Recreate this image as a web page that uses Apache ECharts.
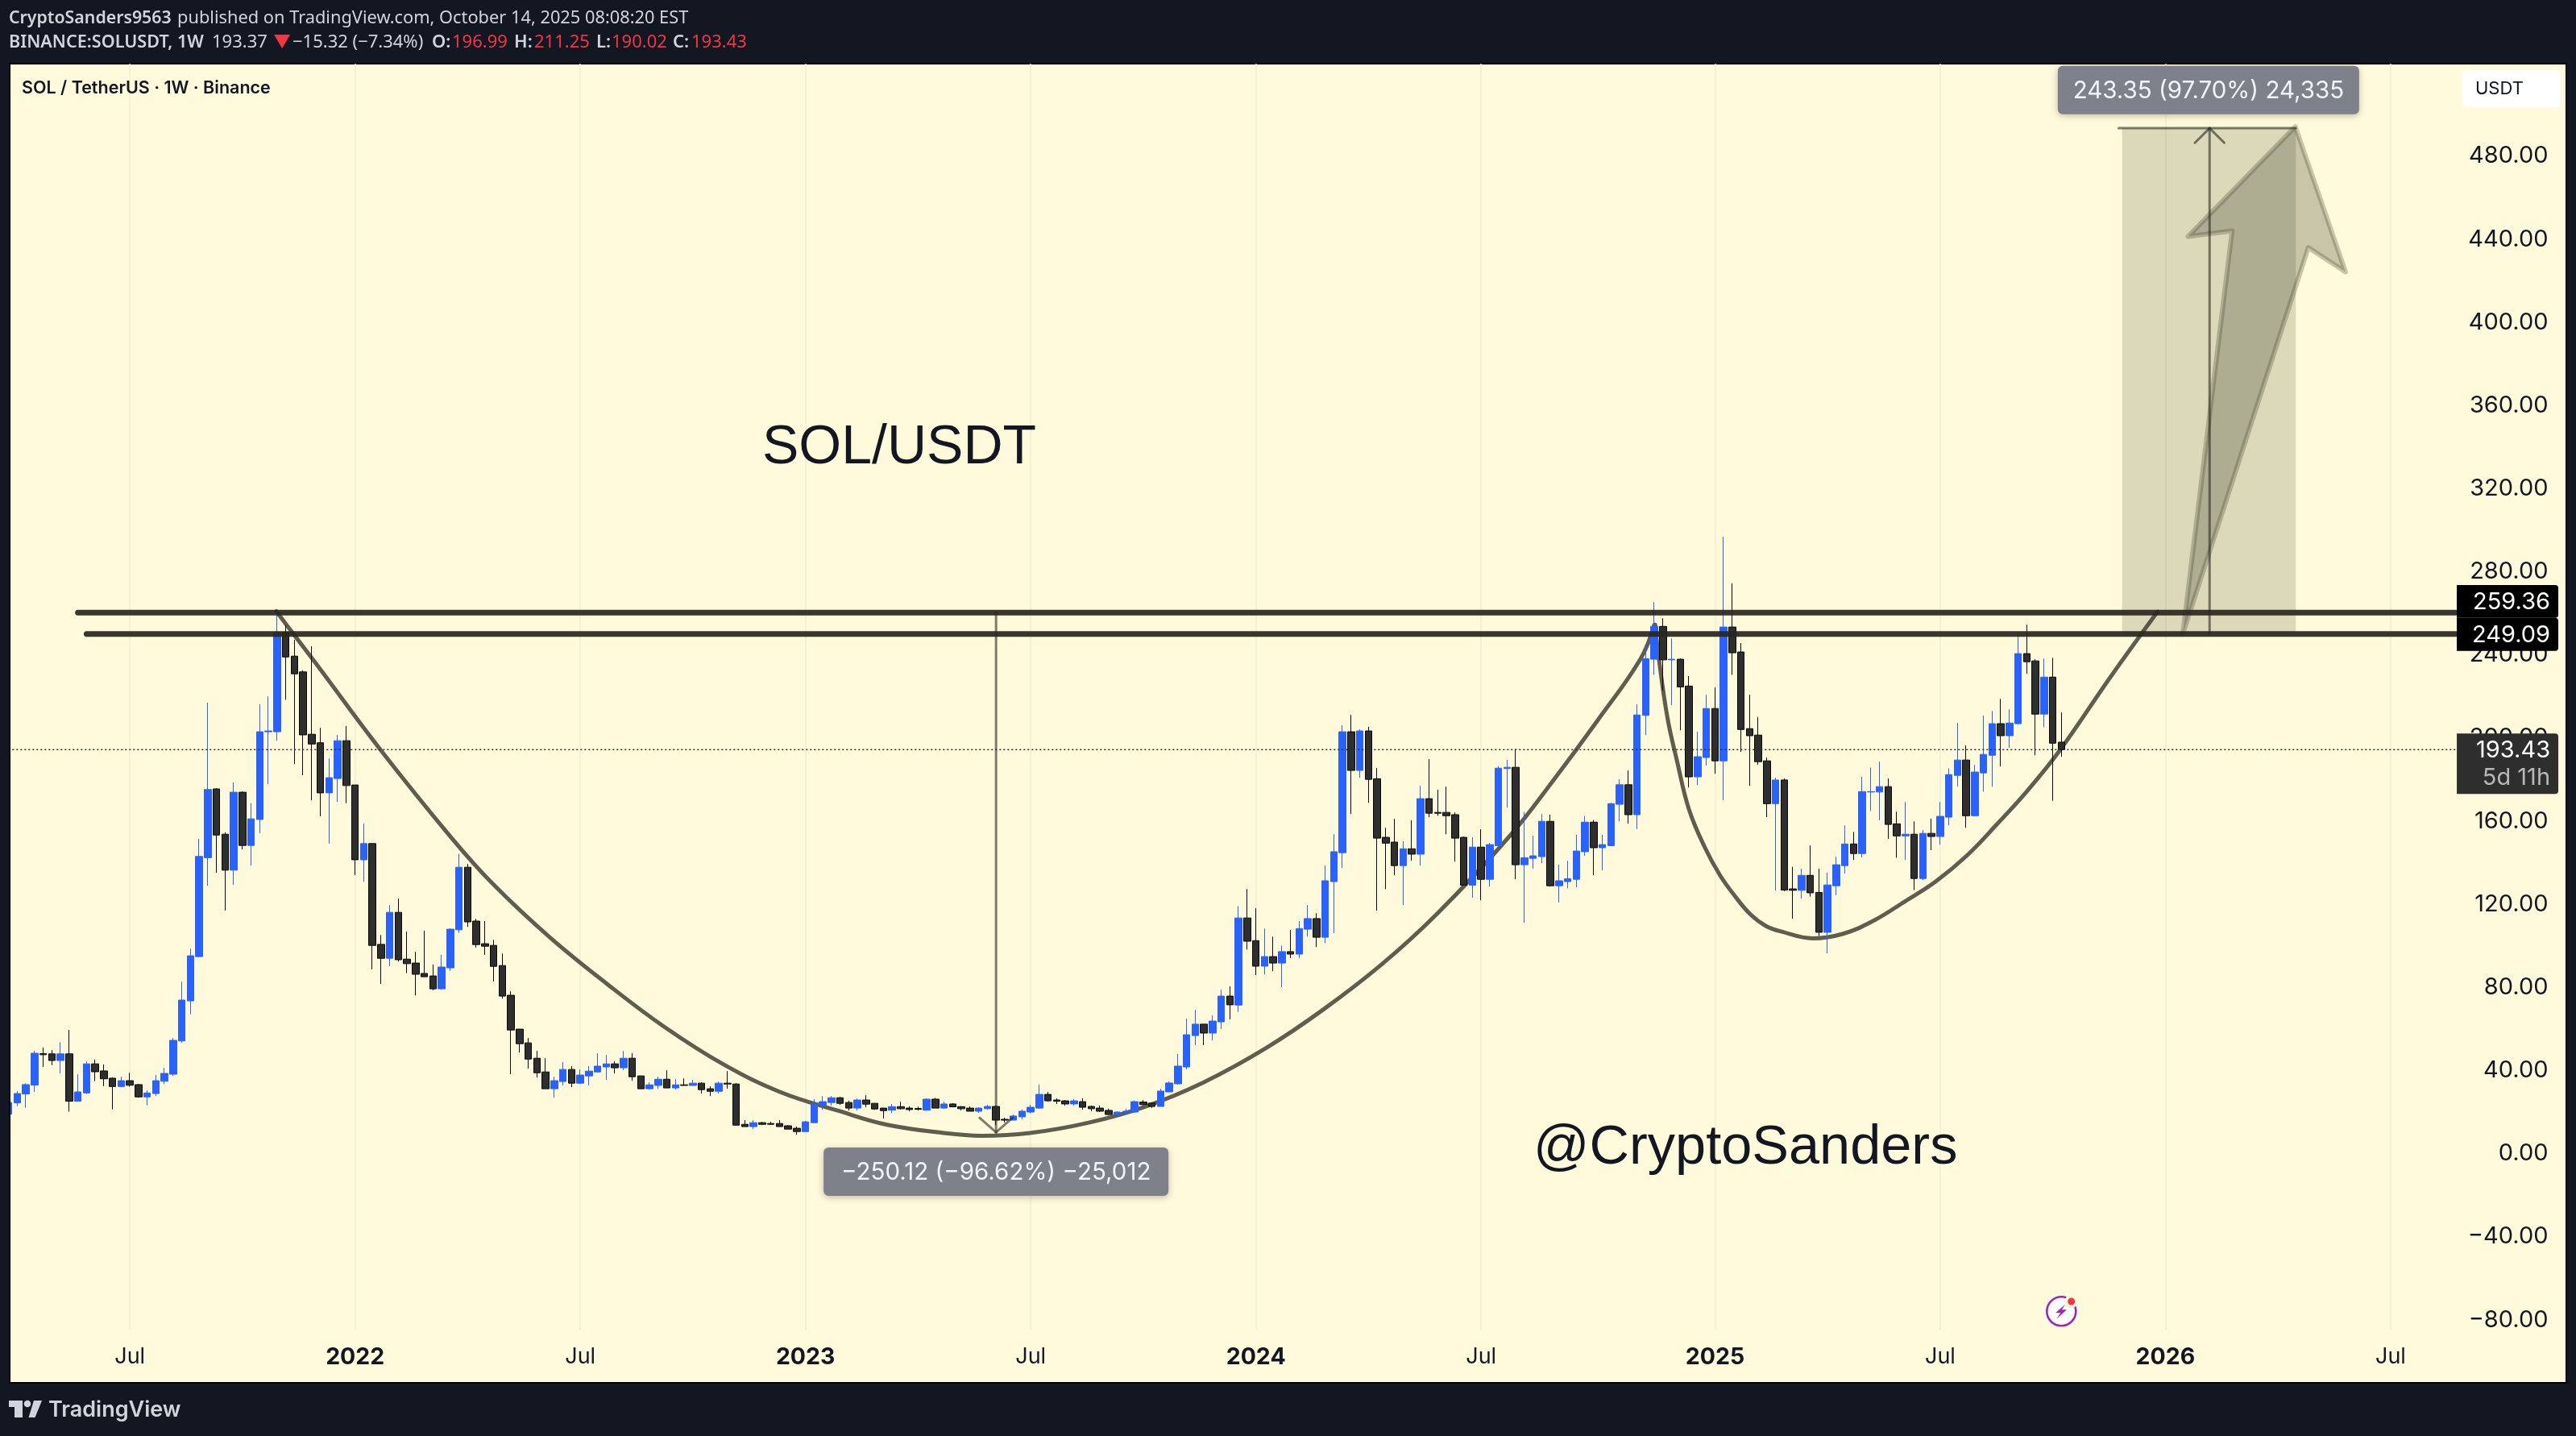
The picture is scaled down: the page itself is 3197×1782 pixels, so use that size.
<!DOCTYPE html>
<html lang="en">

<head>
  <meta charset="UTF-8">
  <title>SOL/USDT 1W</title>
  <style type="text/css">
    html, body { margin: 0; padding: 0; background: #131722; }
    #mainChart { width: 3197px; height: 1782px; }
  </style>
</head>

<body>
  <div id="mainChart"></div>
</body>
<script type="text/javascript" src="https://cdn.jsdelivr.net/npm/echarts@6/dist/echarts.min.js"></script>
<script type="text/javascript">
  // weekly candles, first bar is cut by the left edge
  var opens = [
    18.0, 23.4, 27.7, 32.0, 47.1, 47.0, 43.8, 47.0, 24.2, 28.2,
    42.2, 38.8, 35.3, 31.3, 34.1, 32.2, 26.3, 27.9, 33.8, 37.2,
    53.2, 72.5, 93.8, 141.4, 174.5, 152.7, 135.4, 172.9, 147.3, 159.8,
    202.0, 202.0, 249.8, 238.4, 230.8, 200.8, 196.7, 172.6, 179.5, 197.7,
    176.4, 140.4, 148.2, 99.7, 93.0, 115.1, 92.6, 90.7, 85.7, 84.5,
    78.3, 88.4, 106.7, 136.8, 110.9, 100.0, 99.2, 89.5, 75.2, 58.9,
    52.3, 44.9, 38.3, 30.2, 33.7, 39.5, 32.9, 36.4, 38.3, 40.7,
    42.2, 40.3, 44.9, 36.4, 30.2, 31.8, 34.8, 30.6, 32.1, 31.8,
    32.9, 30.2, 29.0, 32.9, 32.5, 13.1, 12.0, 13.9, 13.5, 13.5,
    12.4, 11.2, 9.6, 13.9, 22.4, 23.6, 25.9, 23.6, 20.9, 24.8,
    23.2, 20.9, 19.9, 21.6, 20.9, 20.7, 19.9, 25.2, 20.9, 22.9,
    21.6, 20.9, 19.4, 20.6, 21.7, 15.5, 15.1, 16.7, 19.0, 20.9,
    27.5, 24.8, 24.4, 22.9, 24.0, 21.7, 20.9, 19.8, 17.8, 18.6,
    19.0, 23.8, 23.3, 21.7, 28.7, 32.6, 40.7, 55.8, 61.3, 57.0,
    62.4, 74.8, 70.5, 112.4, 101.5, 89.2, 93.8, 90.7, 96.2, 95.0,
    107.0, 112.1, 103.1, 129.9, 143.8, 202.0, 183.4, 202.4, 179.4, 151.2,
    148.9, 137.6, 145.7, 143.1, 169.8, 163.2, 163.2, 162.1, 151.2, 128.2,
    146.5, 131.0, 147.2, 184.3, 184.9, 138.0, 141.1, 141.9, 158.9, 127.9,
    129.9, 131.0, 144.3, 158.5, 146.2, 147.2, 167.1, 176.5, 162.1, 209.9,
    236.9, 252.7, 236.6, 236.9, 224.0, 180.3, 189.6, 213.2, 188.0, 252.4,
    240.4, 203.5, 200.4, 188.0, 167.4, 178.8, 126.4, 125.7, 132.9, 124.7,
    105.5, 127.9, 137.6, 148.0, 143.4, 173.0, 173.0, 175.6, 157.7, 151.9,
    152.7, 131.4, 153.1, 151.6, 160.9, 181.0, 188.4, 161.6, 182.2, 190.7,
    205.9, 200.1, 205.9, 239.6, 236.1, 210.5, 228.3, 196.99
  ];
  var closes = [
    23.6, 27.9, 32.2, 47.3, 46.6, 43.8, 47.0, 24.2, 28.7, 42.2,
    38.4, 35.0, 31.3, 34.1, 31.9, 26.3, 28.2, 34.1, 37.6, 53.5,
    72.9, 94.2, 142.0, 174.2, 152.3, 135.4, 172.9, 147.3, 160.1, 202.0,
    202.4, 249.8, 238.0, 229.9, 200.5, 196.1, 172.6, 179.9, 197.7, 176.1,
    140.4, 148.2, 99.2, 93.0, 115.1, 92.3, 90.4, 85.3, 84.1, 78.3,
    88.8, 107.0, 136.8, 110.5, 99.6, 98.8, 89.1, 74.8, 58.5, 51.9,
    44.5, 37.9, 30.2, 34.1, 39.5, 32.9, 36.8, 38.7, 41.1, 42.2,
    40.3, 44.9, 36.0, 30.2, 32.1, 34.8, 30.6, 32.1, 31.8, 32.9,
    29.8, 29.0, 32.9, 32.5, 12.7, 12.0, 13.9, 13.1, 13.1, 12.0,
    10.8, 9.6, 14.3, 22.8, 24.0, 25.9, 23.2, 20.9, 24.8, 22.8,
    20.5, 19.7, 21.6, 20.6, 20.2, 20.3, 25.2, 20.9, 22.9, 21.5,
    20.6, 19.4, 20.9, 21.7, 15.1, 15.1, 17.1, 19.4, 21.3, 27.5,
    24.4, 24.2, 22.9, 24.4, 21.3, 20.6, 19.4, 17.8, 19.0, 19.4,
    24.0, 22.6, 21.7, 29.1, 33.0, 41.1, 56.2, 61.3, 57.0, 62.8,
    74.8, 70.6, 112.4, 101.2, 89.2, 93.8, 90.7, 96.2, 95.0, 107.3,
    112.1, 103.1, 130.3, 144.3, 202.0, 183.4, 202.4, 179.1, 150.8, 148.4,
    137.6, 145.7, 143.1, 169.8, 162.8, 162.8, 161.6, 150.8, 128.2, 146.5,
    131.0, 147.7, 184.5, 184.9, 138.0, 141.4, 142.3, 158.9, 127.9, 130.3,
    131.3, 144.6, 158.5, 146.2, 147.7, 167.4, 176.5, 162.1, 210.1, 237.2,
    252.7, 236.6, 236.9, 223.6, 180.3, 190.0, 213.2, 188.0, 252.4, 240.0,
    203.1, 200.1, 187.6, 167.4, 178.8, 125.8, 125.7, 132.9, 124.5, 105.5,
    128.3, 138.0, 148.0, 143.4, 173.2, 173.2, 175.6, 157.4, 151.9, 152.7,
    131.4, 153.1, 151.6, 161.3, 181.4, 188.4, 161.6, 182.6, 191.1, 205.9,
    200.1, 206.2, 239.6, 235.7, 210.5, 228.3, 196.5, 193.43
  ];
  var lows = [
    17.8, 21.8, 21.1, 28.7, 40.7, 41.6, 37.6, 19.2, 24.2, 27.7,
    33.9, 31.5, 20.3, 31.0, 31.2, 26.0, 22.2, 26.7, 32.4, 36.4,
    52.3, 66.0, 93.5, 127.9, 134.2, 116.0, 128.3, 145.4, 137.6, 153.2,
    176.8, 197.7, 217.4, 186.4, 181.1, 169.0, 161.3, 148.2, 168.3, 167.6,
    133.0, 129.8, 87.6, 80.7, 89.2, 91.4, 85.9, 75.1, 84.1, 77.6,
    77.9, 86.9, 105.2, 108.1, 98.1, 94.6, 81.8, 73.6, 37.2, 47.6,
    39.9, 35.6, 30.2, 25.9, 31.8, 31.0, 32.5, 31.8, 38.3, 34.5,
    37.6, 39.1, 34.1, 30.2, 29.8, 30.2, 30.6, 29.8, 31.8, 31.8,
    27.9, 26.7, 27.9, 30.2, 12.4, 12.0, 10.8, 12.7, 13.1, 12.0,
    10.8, 8.1, 9.6, 13.9, 20.1, 22.1, 22.4, 19.7, 19.7, 21.3,
    20.1, 15.9, 18.6, 20.3, 19.3, 19.7, 19.7, 20.9, 20.6, 21.5,
    19.8, 19.4, 18.6, 20.3, 12.8, 14.0, 15.1, 15.5, 18.3, 20.6,
    24.0, 22.9, 22.1, 22.1, 20.2, 19.4, 19.0, 17.5, 17.5, 18.2,
    18.6, 22.1, 21.0, 21.7, 28.7, 32.2, 39.6, 51.2, 51.2, 53.5,
    59.0, 63.6, 67.2, 97.2, 84.9, 85.2, 86.8, 79.1, 93.1, 93.1,
    103.4, 98.4, 100.3, 105.1, 136.4, 162.4, 179.9, 167.8, 115.9, 126.3,
    133.0, 118.6, 140.0, 137.6, 160.9, 161.5, 152.7, 139.5, 128.2, 122.1,
    120.9, 127.5, 147.2, 165.5, 131.0, 110.1, 136.1, 138.8, 127.5, 119.8,
    126.7, 127.2, 142.3, 133.0, 135.3, 146.9, 158.9, 157.8, 155.2, 200.4,
    229.4, 221.8, 214.8, 202.7, 175.2, 176.4, 185.7, 181.8, 169.1, 229.4,
    192.3, 176.0, 186.1, 160.9, 125.6, 125.2, 112.0, 121.7, 122.7, 103.7,
    95.4, 123.4, 133.7, 140.3, 141.5, 163.9, 159.4, 150.4, 141.4, 140.3,
    125.8, 130.6, 145.0, 147.7, 157.0, 175.6, 155.8, 161.3, 173.2, 175.6,
    185.3, 194.3, 205.5, 229.9, 190.7, 204.2, 168.8, 190.02
  ];
  var highs = [
    24.0, 29.1, 32.9, 48.5, 50.0, 48.8, 52.6, 58.5, 37.2, 43.3,
    44.2, 41.9, 35.7, 36.0, 37.9, 32.5, 29.4, 36.9, 40.3, 54.7,
    81.7, 97.6, 150.4, 216.0, 174.8, 153.6, 177.6, 173.3, 167.6, 215.2,
    219.0, 259.8, 253.3, 246.3, 231.6, 243.1, 203.9, 189.2, 200.5, 204.8,
    176.4, 157.9, 148.2, 104.2, 118.6, 121.7, 105.8, 96.1, 106.3, 90.0,
    94.6, 107.4, 143.3, 138.4, 112.0, 110.9, 101.9, 95.3, 77.1, 58.9,
    54.6, 48.4, 44.9, 36.0, 43.0, 41.1, 39.5, 41.1, 47.3, 46.5,
    43.4, 48.4, 47.3, 36.4, 33.3, 36.0, 39.1, 34.8, 35.2, 34.5,
    33.3, 31.4, 33.7, 38.7, 32.9, 15.1, 15.1, 14.3, 14.3, 15.1,
    12.7, 12.0, 14.7, 25.2, 26.7, 26.7, 26.3, 24.4, 25.5, 27.1,
    23.2, 20.9, 22.9, 23.9, 21.8, 21.6, 25.6, 25.8, 23.9, 23.3,
    21.8, 21.7, 21.3, 22.5, 22.1, 16.3, 17.8, 20.2, 22.5, 32.2,
    28.7, 25.6, 24.8, 25.2, 25.6, 22.1, 22.1, 20.6, 19.4, 20.6,
    24.6, 24.8, 23.3, 30.2, 33.7, 46.9, 64.0, 68.2, 61.3, 65.5,
    77.9, 79.5, 118.1, 126.3, 117.1, 107.3, 103.4, 99.1, 106.6, 110.9,
    118.6, 114.7, 137.6, 152.7, 205.1, 210.1, 203.2, 204.4, 184.5, 155.8,
    160.1, 149.3, 159.4, 176.0, 188.8, 174.1, 175.6, 163.2, 151.5, 151.2,
    155.1, 148.5, 185.4, 188.5, 193.7, 163.4, 152.0, 162.4, 162.1, 138.0,
    139.9, 152.4, 161.5, 159.5, 152.4, 167.8, 179.1, 183.4, 215.2, 243.6,
    264.4, 256.6, 246.9, 237.3, 228.8, 202.0, 219.8, 223.3, 295.8, 273.4,
    244.7, 219.8, 209.0, 189.6, 179.9, 179.5, 137.0, 136.1, 147.3, 136.1,
    134.2, 141.8, 157.0, 153.8, 180.3, 184.8, 187.6, 179.5, 163.5, 168.2,
    158.9, 154.7, 160.2, 168.2, 184.4, 206.2, 195.4, 186.1, 209.8, 212.0,
    217.8, 212.8, 249.8, 253.5, 236.9, 237.2, 237.6, 211.25
  ];

  // axis ticks, x is counted in weeks from the first bar
  var tickWeeks = [14, 40, 66, 92, 118, 144, 170, 197, 223, 249, 275];
  var tickLabels = ['Jul', '2022', 'Jul', '2023', 'Jul', '2024', 'Jul', '2025', 'Jul', '2026', 'Jul'];
  var priceTicks = [-80, -40, 0, 40, 80, 120, 160, 200, 240, 280, 320, 360, 400, 440, 480];

  // levels and drawings, [week, price]
  var upperLevel = 259.36;
  var lowerLevel = 249.09;
  var lastPrice = 193.43;
  var bigCup = [
    [30.9, 260], [32.9, 249], [35.6, 234.2], [42.9, 193.5], [51.1, 151.1], [55.9, 128.8],
    [62.5, 103], [69.2, 80.3], [75.8, 59.7], [82.5, 42], [89.1, 28.6], [95.8, 19.6],
    [101.3, 13], [108, 8.9], [112.3, 7.6], [117.9, 8.9], [124.6, 13.8], [131.2, 21.6],
    [137.9, 33.2], [145.2, 49.9], [151.8, 68.4], [158.5, 90], [165.1, 115.2], [173.4, 152.3],
    [178.4, 179], [183.4, 207.2], [188.4, 237], [190, 253.5]
  ];
  var smallCup = [
    [190.1, 253.5], [190.5, 238], [191.5, 209], [192.6, 188.2], [194, 164.6], [195.8, 146.6],
    [197.6, 132.8], [199.4, 122.4], [201.1, 114.1], [202.9, 108.5], [204.7, 105.8], [208.3, 102.6],
    [211.8, 104.8], [215.4, 111.3], [218.9, 120.3], [222.5, 130], [226.1, 142.5], [229.6, 157.7],
    [233.2, 174.3], [236.8, 193], [242.7, 228.6], [248.1, 259.8]
  ];
  var downRuler = [[114, 259.36], [114, 9.24]];
  var downRulerHead = [[112.1, 16.2], [114, 9.24], [115.9, 16.2]];
  var upRuler = [[254.1, 249.09], [254.1, 492.44]];
  var upRulerHead = [[252.4, 485.4], [254.1, 492.44], [255.8, 485.4]];
  var upRulerCap = [[243.6, 492.44], [264.06, 492.44]];
  var upBand = [[244, 249.09], [264.06, 249.09], [264.06, 492.44], [244, 492.44]];
  var bigArrow = [
    [251, 248.9], [256.7, 443], [251.6, 440.3], [264, 493.2], [269.8, 423.3], [265.5, 435]
  ];
  var rulerTags = [
    { week: 114, price: -9.7, text: '\u2212250.12 (\u221296.62%) \u221225,012' },
    { week: 253.97, price: 510.8, text: '243.35 (97.70%) 24,335' }
  ];
  var priceTags = [upperLevel, lowerLevel, lastPrice];
  var priceTagTexts = ['259.36', '249.09', '193.43'];

  var WEEK_COUNT = 283;
  var WEEK_MS = 7 * 24 * 3600 * 1000;
  var weeks = [];
  var firstWeek = Date.UTC(2021, 2, 22);
  for (var i = 0; i < WEEK_COUNT; i++) {
    weeks.push(new Date(firstWeek + i * WEEK_MS).toISOString().slice(0, 10));
  }
  var candles = opens.map(function (o, i) {
    return [o, closes[i], lows[i], highs[i]];
  });

  var UI_FONT = 'Inter, "Noto Sans", sans-serif';
  var HEAD_FONT = '"Noto Sans", Inter, sans-serif';
  var INK = 'rgba(40,40,30,0.6)';
  var HEAD_GREY = '#d1d4dc';
  var HEAD_RED = '#f23645';

  function drawLine(name, points, width, color, z, extra) {
    var s = {
      name: name,
      type: 'line',
      xAxisIndex: 1,
      yAxisIndex: 0,
      data: points,
      symbol: 'none',
      silent: true,
      z: z,
      lineStyle: { width: width, color: color, cap: 'round', join: 'round' }
    };
    for (var k in extra) { s[k] = extra[k]; }
    return s;
  }

  // filled shape, drawn once through the axes from all its points
  function drawShape(name, points, style, z) {
    return {
      name: name,
      type: 'custom',
      xAxisIndex: 1,
      yAxisIndex: 0,
      silent: true,
      z: z,
      data: points,
      encode: { x: 0, y: 1 },
      renderItem: function (params, api) {
        if (params.dataIndex !== 0) return;
        return {
          type: 'polygon',
          shape: { points: points.map(function (p) { return api.coord(p); }) },
          style: style
        };
      }
    };
  }

  // grey ruler labels
  function rulerTagSeries() {
    return {
      name: 'ruler tags',
      type: 'custom',
      xAxisIndex: 1,
      yAxisIndex: 0,
      silent: true,
      z: 20,
      data: rulerTags.map(function (t) { return [t.week, t.price]; }),
      encode: { x: 0, y: 1 },
      renderItem: function (params, api) {
        var c = api.coord([api.value(0), api.value(1)]);
        var w = params.dataIndex === 0 ? 428 : 374;
        return {
          type: 'group',
          children: [{
            type: 'rect',
            shape: { x: c[0] - w / 2, y: c[1] - 30, width: w, height: 60, r: 6 },
            style: { fill: '#7e808a', shadowBlur: 8, shadowColor: 'rgba(0,0,0,0.25)', shadowOffsetY: 2 }
          }, {
            type: 'text',
            style: {
              text: rulerTags[params.dataIndex].text,
              x: c[0], y: c[1] + 1,
              align: 'center', verticalAlign: 'middle',
              font: '29.5px ' + UI_FONT, fill: '#f0f3fa'
            }
          }]
        };
      }
    };
  }

  // price scale tags, nudged apart the way TradingView does
  function priceTagSeries() {
    var nudges = [-13.8, 0.6, 0];
    return {
      name: 'price tags',
      type: 'custom',
      xAxisIndex: 1,
      yAxisIndex: 0,
      silent: true,
      z: 21,
      data: priceTags.map(function (p) { return [282.5, p]; }),
      encode: { x: 0, y: 1 },
      renderItem: function (params, api) {
        var c = api.coord([api.value(0), api.value(1)]);
        var idx = params.dataIndex;
        var left = c[0] + 1.5;
        var isLast = idx === 2;
        var top = isLast ? c[1] - 20 : c[1] + nudges[idx] - 20.4;
        var h = isLast ? 75 : 40.8;
        var kids = [{
          type: 'rect',
          shape: { x: left, y: top, width: 126, height: h, r: [0, 4, 4, 0] },
          style: { fill: isLast ? '#2e2e2e' : '#000000' }
        }, {
          type: 'text',
          style: {
            text: priceTagTexts[idx],
            x: left + 116, y: top + 21,
            align: 'right', verticalAlign: 'middle',
            font: '29px ' + UI_FONT, fill: '#ffffff'
          }
        }];
        if (isLast) {
          kids.push({
            type: 'text',
            style: {
              text: '5d 11h',
              x: left + 116, y: top + 55,
              align: 'right', verticalAlign: 'middle',
              font: '29px ' + UI_FONT, fill: '#b8b8b8'
            }
          });
        }
        return { type: 'group', children: kids };
      }
    };
  }

  function headText(text, x, y, weight, size, fill) {
    return { type: 'text', z: 100, style: {
      x: x, y: y, verticalAlign: 'middle',
      text: text,
      font: weight + ' ' + size + 'px ' + HEAD_FONT,
      fill: fill
    } };
  }

  var myChart = echarts.init(document.getElementById('mainChart'));
  var option = {
    animation: false,
    backgroundColor: '#131722',
    grid: { left: 5.3, top: 79, width: 3042.25, height: 1571, containLabel: false },
    xAxis: [{
      type: 'category',
      data: weeks,
      show: false
    }, {
      type: 'value',
      position: 'bottom',
      min: -0.5,
      max: 282.5,
      axisLine: { show: false },
      axisTick: { show: false, customValues: tickWeeks },
      splitLine: { show: true, lineStyle: { color: '#efecd0', width: 1.5 } },
      axisLabel: {
        customValues: tickWeeks,
        margin: 20,
        formatter: function (v) {
          var t = tickLabels[tickWeeks.indexOf(v)];
          return t === 'Jul' ? '{m|' + t + '}' : '{y|' + t + '}';
        },
        rich: {
          m: { fontFamily: UI_FONT, fontSize: 27, color: '#131722' },
          y: { fontFamily: UI_FONT, fontSize: 28.5, fontWeight: 700, color: '#131722' }
        }
      }
    }],
    yAxis: {
      type: 'value',
      position: 'right',
      min: -85.7,
      max: 523.5,
      axisLine: { show: false },
      axisTick: { show: false },
      splitLine: { show: false },
      axisLabel: {
        customValues: priceTicks,
        align: 'right',
        margin: 115,
        formatter: function (v) {
          return '{p|' + (v < 0 ? '\u2212' : '') + Math.abs(v).toFixed(2) + '}';
        },
        rich: {
          p: { fontFamily: UI_FONT, fontSize: 29, color: '#131722', padding: [5, 0, 0, 0] }
        }
      }
    },
    series: [
      drawLine('big cup', bigCup, 5, '#5f5d4e', 2, { smooth: 0.4 }),
      drawLine('small cup', smallCup, 5, '#5f5d4e', 2, { smooth: 0.4 }),
      {
        name: 'SOL/USDT',
        type: 'candlestick',
        xAxisIndex: 0,
        yAxisIndex: 0,
        data: candles,
        barWidth: 9,
        silent: true,
        z: 3,
        itemStyle: {
          color: '#2962ff',
          borderColor: '#2962ff',
          color0: '#2e2e2e',
          borderColor0: '#0a0a0a',
          borderWidth: 1
        }
      },
      drawLine('last price', [[-0.5, lastPrice], [282.5, lastPrice]], 1, '#2e2e2e', 4, {
        lineStyle: { width: 1.5, color: '#2e2e2e', type: [2, 3] }
      }),
      drawShape('up band', upBand, { fill: 'rgba(60,60,40,0.18)' }, 4),
      drawShape('big arrow', bigArrow, {
        fill: 'rgba(60,60,40,0.28)',
        stroke: 'rgba(60,60,40,0.28)',
        lineWidth: 6,
        lineJoin: 'round'
      }, 5),
      drawLine('upper level', [[8, upperLevel], [282.5, upperLevel]], 7, 'rgba(40,38,30,0.92)', 6),
      drawLine('lower level', [[9, lowerLevel], [282.5, lowerLevel]], 7, 'rgba(40,38,30,0.92)', 6),
      drawLine('down ruler', downRuler, 3, INK, 7),
      drawLine('down ruler head', downRulerHead, 3, INK, 7),
      drawLine('up ruler', upRuler, 3, INK, 7),
      drawLine('up ruler head', upRulerHead, 3, INK, 7),
      drawLine('up ruler cap', upRulerCap, 3, INK, 7),
      rulerTagSeries(),
      priceTagSeries()
    ],
    graphic: { elements: [
      // chart panel and the strip that cuts the first bar
      { type: 'rect', z: -10, shape: { x: 12, y: 79, width: 3173, height: 1637 },
        style: { fill: '#fffadb', stroke: '#000000', lineWidth: 2 } },
      { type: 'rect', z: 100, shape: { x: 0, y: 78, width: 11, height: 1640 }, style: { fill: '#131722' } },
      { type: 'rect', z: 100, shape: { x: 11, y: 78, width: 2, height: 1640 }, style: { fill: '#000000' } },
      // header, first line
      headText('CryptoSanders9563', 11, 23, 600, 21.3, HEAD_GREY),
      headText('published on TradingView.com, October 14, 2025 08:08:20 EST', 220, 23, 400, 21.8, HEAD_GREY),
      // header, second line
      headText('BINANCE:SOLUSDT, 1W', 11, 53, 600, 21.6, HEAD_GREY),
      headText('193.37', 263, 53, 400, 22, HEAD_GREY),
      headText('\u25BC', 339, 53, 400, 22, HEAD_RED),
      headText('\u221215.32 (\u22127.34%)', 363, 53, 400, 22, HEAD_GREY),
      headText('O:', 536, 53, 600, 22, HEAD_GREY),
      headText('196.99', 561, 53, 400, 22, HEAD_RED),
      headText('H:', 638, 53, 600, 22, HEAD_GREY),
      headText('211.25', 663, 53, 400, 22, HEAD_RED),
      headText('L:', 740, 53, 600, 22, HEAD_GREY),
      headText('190.02', 759, 53, 400, 22, HEAD_RED),
      headText('C:', 835, 53, 600, 22, HEAD_GREY),
      headText('193.43', 858, 53, 400, 22, HEAD_RED),
      { type: 'text', z: 100, style: {
        x: 27, y: 110, verticalAlign: 'middle',
        text: 'SOL / TetherUS \u00B7 1W \u00B7 Binance',
        font: '600 21.5px ' + UI_FONT, fill: '#131722'
      } },
      // big captions
      { type: 'text', z: 8, style: {
        x: 946, y: 556, verticalAlign: 'middle',
        text: 'SOL/USDT',
        font: '68px "Liberation Sans", Arial, sans-serif', fill: '#131722'
      } },
      { type: 'text', z: 8, style: {
        x: 1903, y: 1425, verticalAlign: 'middle',
        text: '@CryptoSanders',
        font: '68.5px "Liberation Sans", Arial, sans-serif', fill: '#131722'
      } },
      // currency box
      { type: 'rect', z: 8, shape: { x: 3056, y: 87, width: 121, height: 46, r: 5 }, style: { fill: '#ffffff' } },
      { type: 'text', z: 9, style: {
        x: 3072, y: 110, verticalAlign: 'middle',
        text: 'USDT', font: '22px ' + UI_FONT, fill: '#131722'
      } },
      // publish icon
      { type: 'circle', z: 8, shape: { cx: 2558.3, cy: 1627.3, r: 20 }, style: { fill: '#ffffff' } },
      { type: 'circle', z: 8, shape: { cx: 2558.3, cy: 1627.3, r: 18 },
        style: { fill: 'none', stroke: '#9c27b0', lineWidth: 2.6 } },
      { type: 'polygon', z: 8, shape: { points: [
        [2562.7, 1619], [2551, 1629.3], [2557.3, 1629.3], [2552.3, 1636.7], [2565, 1625.3], [2559, 1625.3]
      ] }, style: { fill: '#9c27b0' } },
      { type: 'circle', z: 9, shape: { cx: 2570.7, cy: 1615, r: 8 }, style: { fill: '#fffadb' } },
      { type: 'circle', z: 9, shape: { cx: 2570.7, cy: 1615, r: 4.5 }, style: { fill: '#f23645' } },
      // TradingView mark
      { type: 'polygon', z: 100, shape: { points: [
        [11, 1738], [28, 1738], [28, 1759], [18, 1759], [18, 1746], [11, 1746]
      ] }, style: { fill: '#d1d4dc' } },
      { type: 'circle', z: 100, shape: { cx: 34, cy: 1742, r: 4.3 }, style: { fill: '#d1d4dc' } },
      { type: 'polygon', z: 100, shape: { points: [
        [42, 1738], [52, 1738], [43.5, 1759], [35.5, 1759]
      ] }, style: { fill: '#d1d4dc' } },
      { type: 'text', z: 100, style: {
        x: 60, y: 1750, verticalAlign: 'middle',
        text: 'TradingView', font: '600 27px ' + UI_FONT, fill: '#d1d4dc'
      } }
    ] }
  };
  myChart.setOption(option);
</script>

</html>
